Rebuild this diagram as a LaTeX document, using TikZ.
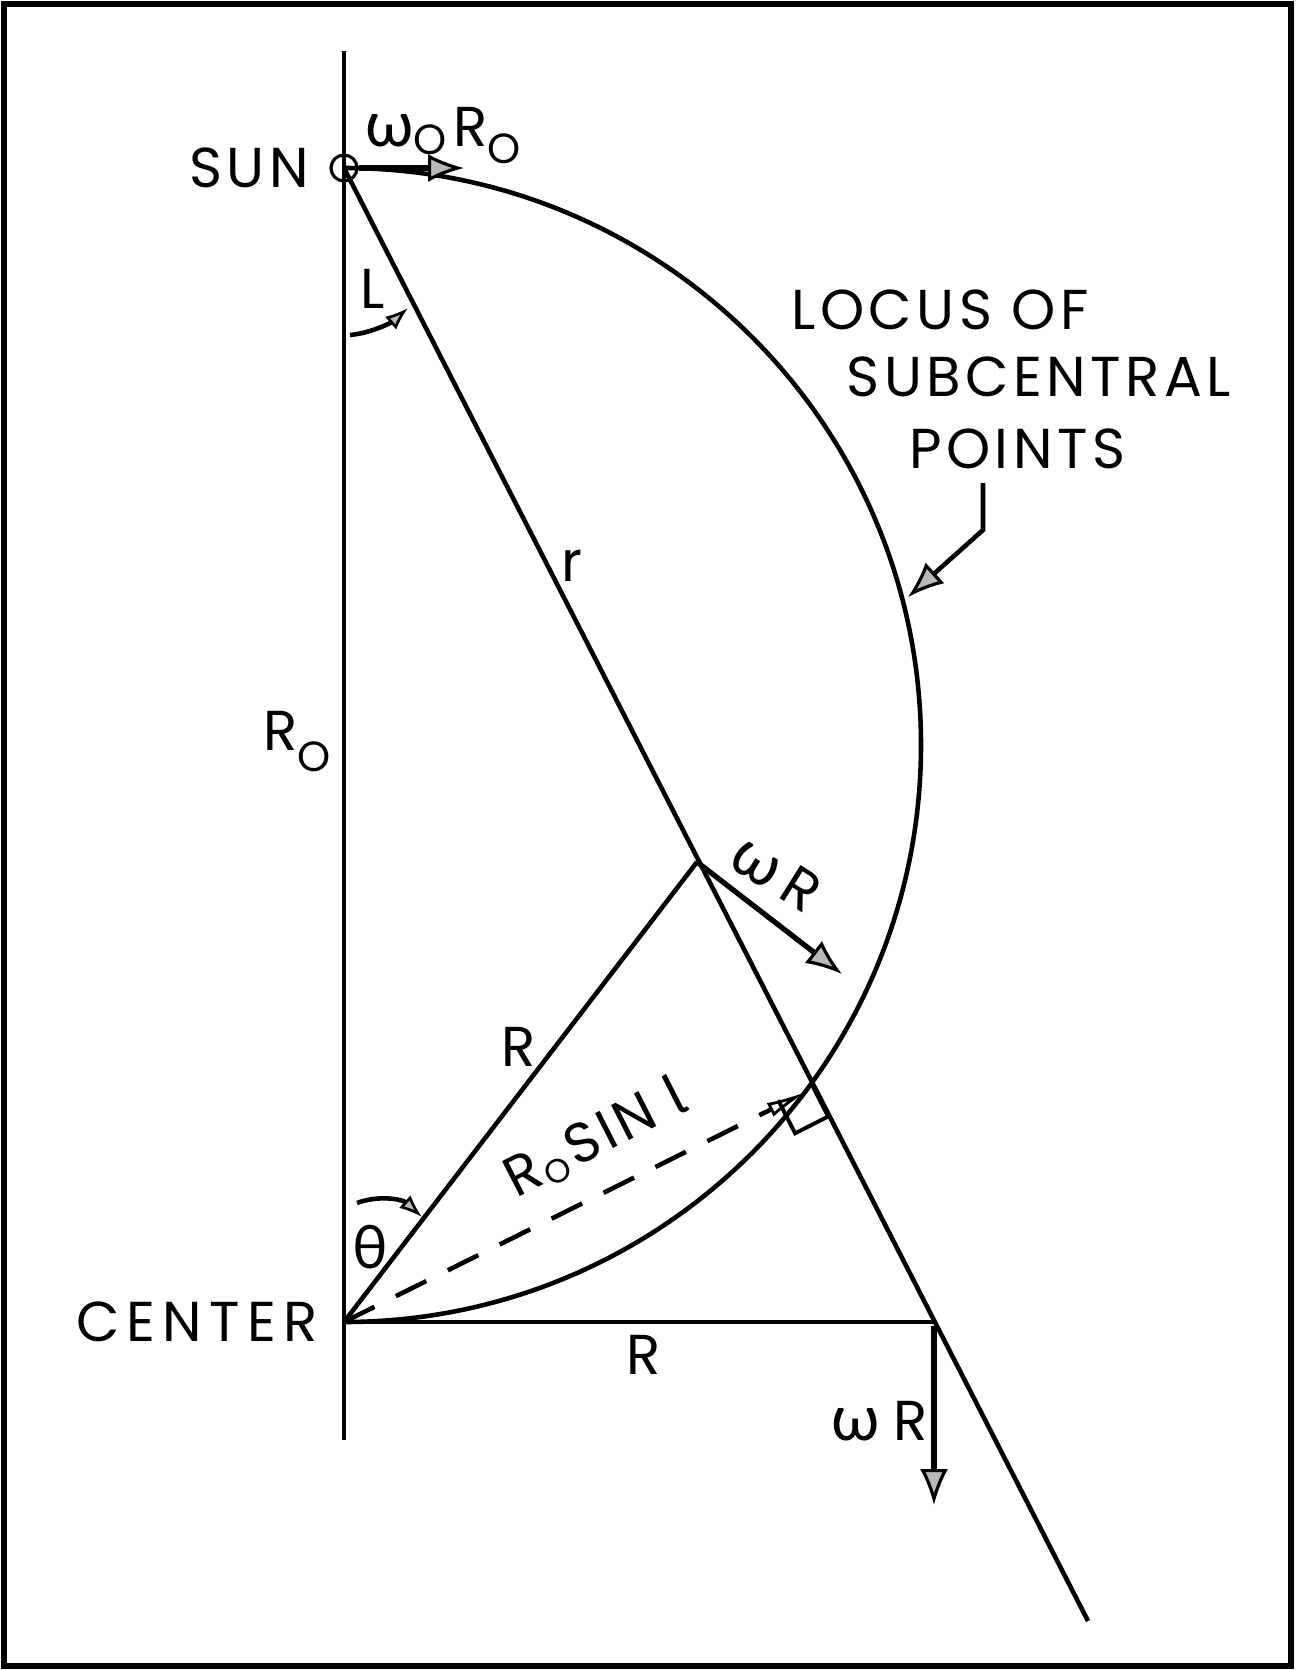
\documentclass[tikz,border=0pt]{standalone}
\usepackage{fontspec}
\setmainfont{Poppins}[LetterSpace=8]
\newfontfamily\grk{Lato}
\newfontfamily\fira{Fira Sans}
\usetikzlibrary{arrows.meta}
\newcommand\om{{\grk\fontsize{36}{36}\selectfont ω}}
\newcommand\lowO[2][24]{\raisebox{#2}{\fontsize{#1}{#1}\selectfont O}}
\begin{document}
\begin{tikzpicture}[x=0.02cm,y=-0.02cm,
  ln/.style={line width=2.6pt},
  lbl/.style={font=\fontsize{32}{36}\selectfont, inner sep=0pt, outer sep=0pt},
  arr/.style={line width=3pt, -{Latex[length=0.72cm,width=0.56cm,fill=gray!55,line width=1.8pt]}},
  sarr/.style={line width=2.6pt, -{Latex[length=0.46cm,width=0.34cm,fill=gray!55,line width=1.5pt]}}]
\useasboundingbox (0,0) rectangle (1295,1670);
\draw[line width=3pt] (4,4) rectangle (1291,1666);
% key points
\coordinate (top) at (344,51);
\coordinate (bot) at (344,1440);
\coordinate (S) at (344,168);
\coordinate (C) at (344,1322);
\coordinate (V) at (697,862);
\coordinate (H) at (933,1322);
\coordinate (E) at (1088,1621);
\coordinate (P) at (811.3,1083.5);
\coordinate (Pd) at (806,1092);
\coordinate (w0tip) at (464,168);
\coordinate (wVtip) at (842,974);
\coordinate (Hs) at (934,1326);
\coordinate (wHtip) at (934,1505);
\coordinate (loc1) at (983,483);
\coordinate (loc2) at (983,530);
\coordinate (loctip) at (908,597);
% main lines
\draw[ln] (top) -- (bot);
\node[circle, draw, line width=1.8pt, minimum size=0.52cm, inner sep=0pt] (sun) at (S) {};
\draw[ln] (S) arc[start angle=-90, end angle=90, radius=577];
\draw[ln] (S) -- (E);
\draw[ln] (C) -- (V);
\draw[ln] (C) -- (H);
\draw[ln, dash pattern=on 0.68cm off 0.48cm, -{Latex[open,length=0.8cm,width=0.3cm,line width=1.6pt]}] (C) -- (Pd);
\draw[line width=2.2pt] (P) -- ++(16.8,33) -- ++(-33,16.8) -- ++(-16.8,-33);
% vectors
\draw[arr] (sun.east) -- (w0tip);
\draw[arr] (V) -- (wVtip);
\draw[arr] (Hs) -- (wHtip);
\draw[arr, line width=2.6pt] (loc1) -- (loc2) -- (loctip);
\draw[sarr] (350,335) .. controls (372,333) and (392,322) .. (408,308);
\draw[sarr] (357,1203) .. controls (378,1195) and (402,1199) .. (422,1217);
% labels
\node[lbl] (tsun) at (249,168) {SUN};
\node[lbl, anchor=base west] (tw0) at (365,146) {\om\lowO{-5pt}\hspace{4pt}R\lowO{-10pt}};
\node[lbl] (tl) at (373,289) {L};
\node[lbl] (tloc1) at (940,310) {LOCUS OF};
\node[lbl] (tloc2) at (1039,377) {SUBCENTRAL};
\node[lbl] (tloc3) at (1017,449) {POINTS};
\node[lbl] (tr) at (572,566) {r};
\node[lbl, anchor=base west] (tR0) at (263,750) {R\lowO{-12pt}};
\node[lbl, rotate=-32] (twV) at (776,874) {\om\hspace{6pt}R};
\node[lbl] (tR1) at (519,1047) {R};
\node[lbl, anchor=base west, rotate=27] (tsin) at (516,1198) {R\hspace{1pt}\lowO[19]{-4pt}\hspace{3pt}SIN\hspace{10pt}{\fira l}};
\node[lbl] (tth) at (370,1247) {{\grk\fontsize{34}{36}\selectfont θ}};
\node[lbl] (tcen) at (197,1322) {\addfontfeature{LetterSpace=13}CENTER};
\node[lbl] (tR2) at (644,1355) {R};
\node[lbl, anchor=base west] (twH) at (831,1440) {\om\hspace{8pt}R};
\end{tikzpicture}
\end{document}
